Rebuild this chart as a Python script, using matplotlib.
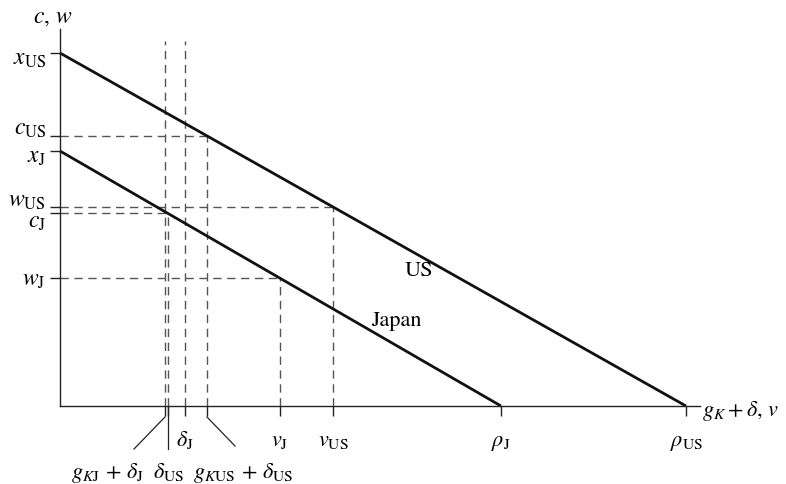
import matplotlib
matplotlib.use('Agg')
import matplotlib.pyplot as plt

# intercepts (x) and zero-points (rho) of the two frontier lines
x_US = 35.3
rho_US = 62.6
x_J = 25.5
rho_J = 44.1

# positions on the horizontal axis
g_KJ_d_J = 10.5     # full-height dashed guide
delta_US = 10.8     # Japan consumption point
delta_J = 12.5      # full-height dashed guide
g_KUS_d_US = 14.7   # US consumption point
v_J = 22.0
v_US = 27.3
guide_top = 36.5

plt.rcParams['mathtext.fontset'] = 'stix'
plt.rcParams['font.family'] = 'STIXGeneral'
fs = 16    # plain text and horizontal-axis labels
fm = 17    # vertical-axis labels


def on_line(x0, rho, x):
    # height of a frontier line at horizontal position x
    return x0 * (1 - x / rho)


c_US = on_line(x_US, rho_US, g_KUS_d_US)
w_US = on_line(x_US, rho_US, v_US)
c_J = on_line(x_J, rho_J, delta_US)
w_J = on_line(x_J, rho_J, v_J)

fig = plt.figure(figsize=(7.86, 4.85), dpi=100)
ax = fig.add_axes([0, 0, 1, 1])
ax.set_xlim(-6, 72.6)
ax.set_ylim(-7.8, 40.7)
ax.patch.set_visible(False)

# axes as spines through the origin
for side in ['top', 'right']:
    ax.spines[side].set_visible(False)
ax.spines['left'].set_position(('data', 0))
ax.spines['bottom'].set_position(('data', 0))
ax.spines['left'].set_bounds(0, 37.7)
ax.spines['bottom'].set_bounds(0, 64)
for side in ['left', 'bottom']:
    ax.spines[side].set_linewidth(1.0)
    ax.spines[side].set_color('#222222')

y_ticks = [x_US, c_US, x_J, w_US, c_J, w_J]
y_labels = [r'$x_{\mathrm{US}}$', r'$c_{\mathrm{US}}$', r'$x_{\mathrm{J}}$',
            r'$w_{\mathrm{US}}$', r'$c_{\mathrm{J}}$', r'$w_{\mathrm{J}}$']
# baseline shift of each label so the close pairs do not collide
y_shift = [-1.1, 0.2, -1.1, 0.1, -1.3, -0.6]

ax.set_yticks(y_ticks)
ax.set_yticklabels([])
ax.set_xticks([g_KJ_d_J, delta_US, delta_J, g_KUS_d_US, v_J, v_US, rho_J, rho_US])
ax.set_xticklabels([])
ax.tick_params(direction='out', length=7, width=1.0, color='#222222')

for yv, lab, sh in zip(y_ticks, y_labels, y_shift):
    ax.text(-1.4, yv + sh, lab, fontsize=fm, ha='right', va='baseline')

# dashed guides
dash = dict(color='#555555', lw=1.0, ls=(0, (6, 4)))
for xv in [g_KJ_d_J, delta_J]:
    ax.plot([xv, xv], [0, guide_top], **dash)
for xv, yv in [(g_KUS_d_US, c_US), (v_US, w_US), (delta_US, c_J), (v_J, w_J)]:
    ax.plot([xv, xv], [0, yv], **dash)
    ax.plot([0, xv], [yv, yv], **dash)

# frontier lines
ax.plot([0, rho_US], [x_US, 0], color='#111111', lw=2.0, solid_capstyle='butt')
ax.plot([0, rho_J], [x_J, 0], color='#111111', lw=2.0, solid_capstyle='butt')
ax.text(35.9, 13.6, 'US', fontsize=fs, ha='center', va='center')
ax.text(33.6, 8.6, 'Japan', fontsize=fs, ha='center', va='center')

# axis titles
ax.text(-2.7, 38.4, r'$c$, $w$', fontsize=fm, ha='left', va='baseline')
ax.text(64.2, -0.9, r'$g_K + \delta$, $v$', fontsize=fs, ha='left', va='baseline')

# labels under the horizontal axis
row1 = -3.9
row2 = -7.1
for xv, lab in [(delta_J, r'$\delta_{\mathrm{J}}$'), (v_J, r'$v_{\mathrm{J}}$'),
                (v_US, r'$v_{\mathrm{US}}$'), (rho_J, r'$\rho_{\mathrm{J}}$'),
                (rho_US, r'$\rho_{\mathrm{US}}$')]:
    ax.text(xv, row1, lab, fontsize=fs, ha='center', va='baseline')

lead = dict(color='#222222', lw=0.9)
ax.plot([g_KJ_d_J, g_KJ_d_J - 3.1], [-1.1, -4.3], **lead)
ax.plot([delta_US, delta_US], [0, -4.3], **lead)
ax.plot([g_KUS_d_US, g_KUS_d_US + 2.8], [-1.1, -4.0], **lead)
ax.text(g_KJ_d_J - 5.7, row2, r'$g_{K\mathrm{J}}\,+\,\delta_{\mathrm{J}}$', fontsize=fs,
        ha='center', va='baseline')
ax.text(delta_US + 0.1, row2, r'$\delta_{\mathrm{US}}$', fontsize=fs, ha='center', va='baseline')
ax.text(g_KUS_d_US + 3.6, row2, r'$g_{K\mathrm{US}}\,+\,\delta_{\mathrm{US}}$', fontsize=fs,
        ha='center', va='baseline')

fig.savefig('out.png', dpi=100)
